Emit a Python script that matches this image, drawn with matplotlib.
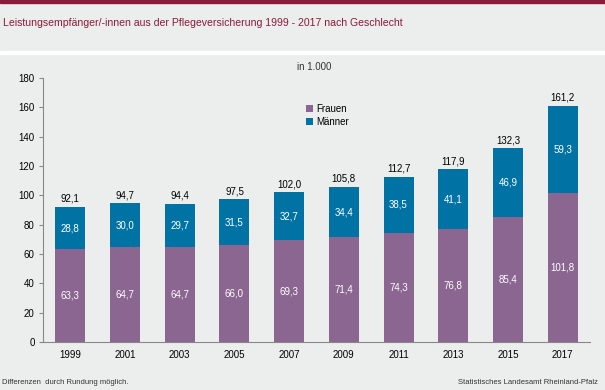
import matplotlib.pyplot as plt
import numpy as np

plt.rcParams['font.family'] = ['Liberation Sans', 'DejaVu Sans']

years = ['1999', '2001', '2003', '2005', '2007', '2009', '2011', '2013', '2015', '2017']
frauen = [63.3, 64.7, 64.7, 66.0, 69.3, 71.4, 74.3, 76.8, 85.4, 101.8]
maenner = [28.8, 30.0, 29.7, 31.5, 32.7, 34.4, 38.5, 41.1, 46.9, 59.3]
gesamt = [92.1, 94.7, 94.4, 97.5, 102.0, 105.8, 112.7, 117.9, 132.3, 161.2]

bg = '#eceeed'
c_fr = '#8a6690'
c_ma = '#0073a4'
dark = '#8b1a3a'

def de(v):
    return f'{v:.1f}'.replace('.', ',')

fig = plt.figure(figsize=(6.05, 3.9), dpi=100)
fig.patch.set_facecolor(bg)

# oberer Streifen und weisse Trennlinie
fig.add_artist(plt.Rectangle((0, 1 - 3 / 390), 1, 3 / 390, transform=fig.transFigure, color=dark))
fig.add_artist(plt.Rectangle((0, 1 - 54 / 390), 1, 3 / 390, transform=fig.transFigure, color='white'))

fig.text(3 / 605, 1 - 23 / 390, 'Leistungsempfänger/-innen aus der Pflegeversicherung 1999 - 2017 nach Geschlecht',
         color=dark, fontsize=7.6, va='center', ha='left')
fig.text(314 / 605, 1 - 67 / 390, 'in 1.000', color='#333333', fontsize=7, ha='center', va='center')

ax = fig.add_axes([43 / 605, 48 / 390, 547 / 605, 264 / 390])
ax.set_facecolor(bg)
x = np.arange(len(years))
w = 0.55
ax.bar(x, frauen, w, color=c_fr, label='Frauen')
ax.bar(x, maenner, w, bottom=frauen, color=c_ma, label='Männer')

for i in range(len(years)):
    ax.text(x[i], frauen[i] / 2, de(frauen[i]), ha='center', va='center', color='white', fontsize=7)
    ax.text(x[i], frauen[i] + maenner[i] / 2, de(maenner[i]), ha='center', va='center', color='white', fontsize=7)
    ax.text(x[i], gesamt[i] + 2, de(gesamt[i]), ha='center', va='bottom', color='black', fontsize=7)

ax.set_xlim(-0.5, len(years) - 0.5)
ax.set_ylim(0, 180)
ax.set_yticks(range(0, 181, 20))
ax.set_xticks(x)
ax.set_xticklabels(years)
ax.tick_params(axis='y', length=3, color='#888888', labelsize=7, pad=3)
ax.tick_params(axis='x', length=0, labelsize=7, pad=6)
for s in ['top', 'right']:
    ax.spines[s].set_visible(False)
for s in ['left', 'bottom']:
    ax.spines[s].set_color('#888888')
    ax.spines[s].set_linewidth(0.8)

ax.legend(loc='upper left', bbox_to_anchor=(0.465, 0.935), frameon=False, fontsize=7,
          handlelength=0.7, handleheight=0.7, handletextpad=0.3, labelspacing=0.3)

fig.text(2 / 605, 1 - 383 / 390, 'Differenzen  durch Rundung möglich.', fontsize=5.5, color='#333333', va='center')
fig.text(598 / 605, 1 - 383 / 390, 'Statistisches Landesamt Rheinland-Pfalz', fontsize=5.5, color='#333333',
         va='center', ha='right')

fig.savefig('out.png', dpi=100, facecolor=bg)
